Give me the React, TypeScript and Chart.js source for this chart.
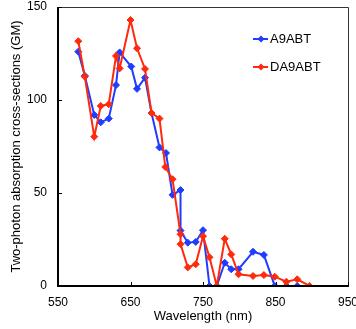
import React, { useEffect, useRef } from "react";
import { Chart, registerables } from "chart.js";

Chart.register(...registerables);

const seriesNames = ["A9ABT", "DA9ABT"];
const seriesColors = ["#1f3cff", "#ff2a0c"];

const wavelengthsA = [578, 587, 600, 609, 620, 630, 635, 651, 659, 670, 679, 690, 699, 708, 719, 719, 729, 740, 750, 759, 769, 780, 789, 799, 819, 834, 849, 865, 880];
const valuesA = [126, 113, 92, 88, 90, 108, 125.6, 118, 106, 112, 93, 74.5, 71.5, 49, 51.6, 29.8, 23.3, 23.7, 30, 0, 0, 12.5, 9, 9, 18.4, 16.7, 0, 0, 0];

const wavelengthsB = [578, 587, 600, 609, 620, 630, 635, 650, 659, 670, 679, 690, 698, 708, 719, 719, 729, 740, 750, 759, 769, 780, 789, 799, 819, 834, 849, 865, 880, 897];
const valuesB = [131.6, 112.5, 80.3, 96.8, 97.7, 123.7, 117, 143, 127.8, 116.7, 93, 90, 64, 57.4, 27.8, 22.5, 10, 11.7, 26.8, 15.4, 0, 25.4, 17, 6.3, 5.4, 5.9, 5, 2.3, 3.6, 0];

const xTicks = [550, 650, 750, 850, 950];
const yTicks = [0, 50, 100, 150];

const FONT = "'Liberation Sans', Arial, sans-serif";

const framePlugin = {
  id: "frame",
  afterDatasetsDraw(chart: any) {
    const { ctx, chartArea: a, scales } = chart;
    ctx.save();
    // top and right thin frame
    ctx.strokeStyle = "#333";
    ctx.lineWidth = 1;
    ctx.beginPath();
    ctx.moveTo(a.left, a.top + 0.5);
    ctx.lineTo(a.right + 0.5, a.top + 0.5);
    ctx.lineTo(a.right + 0.5, a.bottom);
    ctx.stroke();
    // axes
    ctx.strokeStyle = "#000";
    ctx.lineWidth = 2;
    ctx.beginPath();
    ctx.moveTo(a.left, a.top);
    ctx.lineTo(a.left, a.bottom);
    ctx.lineTo(a.right + 1, a.bottom);
    ctx.stroke();
    // inward tick marks
    ctx.lineWidth = 1;
    ctx.beginPath();
    yTicks.forEach((v) => {
      const y = Math.round(scales.y.getPixelForValue(v)) + 0.5;
      ctx.moveTo(a.left, y);
      ctx.lineTo(a.left + 4, y);
    });
    xTicks.forEach((v) => {
      const x = Math.round(scales.x.getPixelForValue(v)) + 0.5;
      ctx.moveTo(x, a.bottom);
      ctx.lineTo(x, a.bottom - 4);
    });
    ctx.stroke();

    // legend
    const items = [
      { y: 39, color: seriesColors[0], label: seriesNames[0] },
      { y: 67, color: seriesColors[1], label: seriesNames[1] },
    ];
    items.forEach((it) => {
      ctx.strokeStyle = it.color;
      ctx.fillStyle = it.color;
      ctx.lineWidth = 2;
      ctx.beginPath();
      ctx.moveTo(253, it.y);
      ctx.lineTo(268, it.y);
      ctx.stroke();
      const r = 3.5;
      ctx.beginPath();
      ctx.moveTo(261, it.y - r);
      ctx.lineTo(261 + r, it.y);
      ctx.lineTo(261, it.y + r);
      ctx.lineTo(261 - r, it.y);
      ctx.closePath();
      ctx.fill();
      ctx.fillStyle = "#000";
      ctx.font = `13px ${FONT}`;
      ctx.textBaseline = "middle";
      ctx.textAlign = "left";
      ctx.fillText(it.label, 270, it.y + 0.5);
    });
    ctx.restore();
  },
};

export default function App() {
  const ref = useRef<HTMLCanvasElement | null>(null);
  useEffect(() => {
    if (!ref.current) return;
    const mk = (xs: number[], ys: number[]) => xs.map((x, i) => ({ x, y: ys[i] }));
    const chart = new Chart(ref.current, {
      type: "line",
      data: {
        datasets: [
          {
            label: seriesNames[0],
            data: mk(wavelengthsA, valuesA),
            borderColor: seriesColors[0],
            backgroundColor: seriesColors[0],
            borderWidth: 2,
            pointStyle: "rectRot",
            pointRadius: 3.5,
            pointBorderWidth: 1,
            tension: 0,
            order: 1,
          },
          {
            label: seriesNames[1],
            data: mk(wavelengthsB, valuesB),
            borderColor: seriesColors[1],
            backgroundColor: seriesColors[1],
            borderWidth: 2,
            pointStyle: "rectRot",
            pointRadius: 3.5,
            pointBorderWidth: 1,
            tension: 0,
            order: 0,
          },
        ],
      },
      options: {
        responsive: false,
        animation: false,
        events: [],
        devicePixelRatio: 1,
        layout: { padding: { top: 7, right: 8, left: 0, bottom: 0 } },
        plugins: {
          legend: { display: false },
          tooltip: { enabled: false },
        },
        scales: {
          x: {
            type: "linear",
            min: 550,
            max: 950,
            afterBuildTicks: (s: any) => {
              s.ticks = xTicks.map((v) => ({ value: v }));
            },
            afterFit: (s: any) => {
              s.height = 43;
              s.paddingLeft = 0;
              s.paddingRight = 0;
            },
            grid: { display: false, drawTicks: false },
            border: { display: false },
            ticks: {
              padding: 9,
              maxRotation: 0,
              autoSkip: false,
              color: "#000",
              font: { family: FONT, size: 12 },
            },
            title: {
              display: true,
              text: "Wavelength (nm)",
              color: "#000",
              font: { family: FONT, size: 13 },
              padding: { top: 0, bottom: 5 },
            },
          },
          y: {
            min: 0,
            max: 150,
            afterBuildTicks: (s: any) => {
              s.ticks = yTicks.map((v) => ({ value: v }));
            },
            afterFit: (s: any) => {
              s.width = 58;
              s.paddingTop = 0;
              s.paddingBottom = 0;
            },
            grid: { display: false, drawTicks: false },
            border: { display: false },
            ticks: {
              padding: 11,
              color: "#000",
              font: { family: FONT, size: 12 },
            },
            title: {
              display: true,
              text: "Two-photon absorption cross-sections (GM)",
              color: "#000",
              font: { family: FONT, size: 13 },
              padding: { top: 9, bottom: 0 },
            },
          },
        },
      },
      plugins: [framePlugin],
    } as any);
    return () => chart.destroy();
  }, []);
  return (
    <div style={{ position: "fixed", left: 0, top: 0, width: 356, height: 329, background: "#fff" }}>
      <canvas ref={ref} width={356} height={329} style={{ display: "block" }} />
    </div>
  );
}
